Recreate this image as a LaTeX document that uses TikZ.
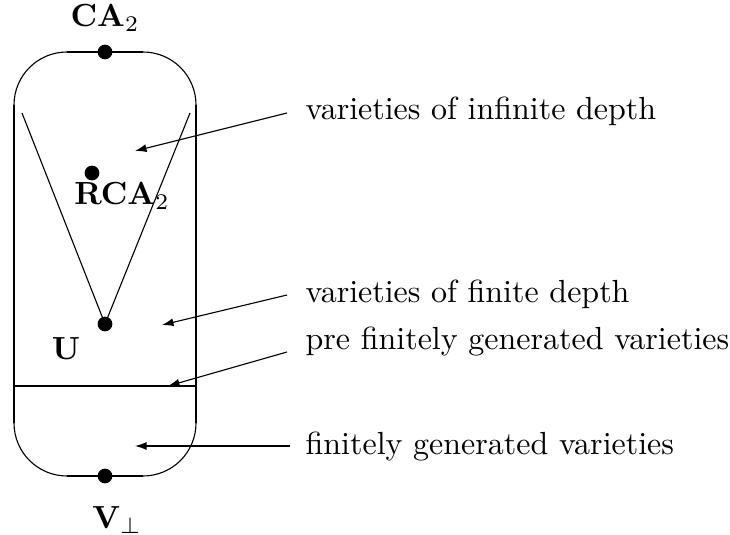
\documentclass[tikz,border=0pt]{standalone}
\usetikzlibrary{arrows.meta}
\begin{document}
\begin{tikzpicture}[x=0.3125pt,y=-0.3125pt,
  thin line/.style={line width=0.35pt},
  thick line/.style={line width=0.65pt},
  dotnode/.style={circle,fill=black,inner sep=0pt,minimum size=4.6pt},
  pointer/.style={line width=0.35pt,-{Latex[length=3.6pt,width=2.5pt]}},
  lbl/.style={inner sep=0pt},
  txt/.style={anchor=west,inner sep=0pt}]
\useasboundingbox (0,0) rectangle (730,535);
% outline
\draw[thin line] (67,52) .. controls (37.7,52) and (14,75.7) .. (14,105);
\draw[thin line] (143,52) .. controls (172.3,52) and (196,75.7) .. (196,105);
\draw[thin line] (14,423) .. controls (14,452.3) and (37.7,476) .. (67,476);
\draw[thin line] (196,423) .. controls (196,452.3) and (172.3,476) .. (143,476);
\draw[thick line] (67,52) -- (143,52);
\draw[thick line] (67,476) -- (143,476);
\draw[thick line] (14,105) -- (14,423);
\draw[thick line] (196,105) -- (196,423);
\draw[thick line] (14,386) -- (196,386);
% dots
\node[dotnode] (ca) at (105,52) {};
\node[dotnode] (v) at (105,476) {};
\node[dotnode] (u) at (105,324) {};
\node[dotnode] (rca) at (92,173) {};
% V lines
\coordinate (vl) at (22,113);
\coordinate (vr) at (190,113);
\draw[thin line] (vl) -- (u.center) -- (vr);
% labels
\node[lbl] (lca) at (105,18) {$\mathbf{CA}_2$};
\node[lbl] (lrca) at (122,196) {$\mathbf{RCA}_2$};
\node[lbl] (lu) at (66,349) {$\mathbf{U}$};
\node[lbl] (lv) at (117,520) {$\mathbf{V}_\perp$};
% texts
\node[txt] (t1) at (305,111) {varieties of infinite depth};
\node[txt] (t2) at (305,294) {varieties of finite depth};
\node[txt] (t3) at (305,342) {pre finitely generated varieties};
\node[txt] (t4) at (305,447) {finitely generated varieties};
% arrows
\coordinate (s1) at (287,113); \coordinate (e1) at (135,151);
\coordinate (s2) at (287,295); \coordinate (e2) at (162,325);
\coordinate (s3) at (287,352); \coordinate (e3) at (168,386);
\coordinate (s4) at (290,446); \coordinate (e4) at (135,446);
\draw[pointer] (s1) -- (e1);
\draw[pointer] (s2) -- (e2);
\draw[pointer] (s3) -- (e3);
\draw[pointer] (s4) -- (e4);
\end{tikzpicture}
\end{document}
